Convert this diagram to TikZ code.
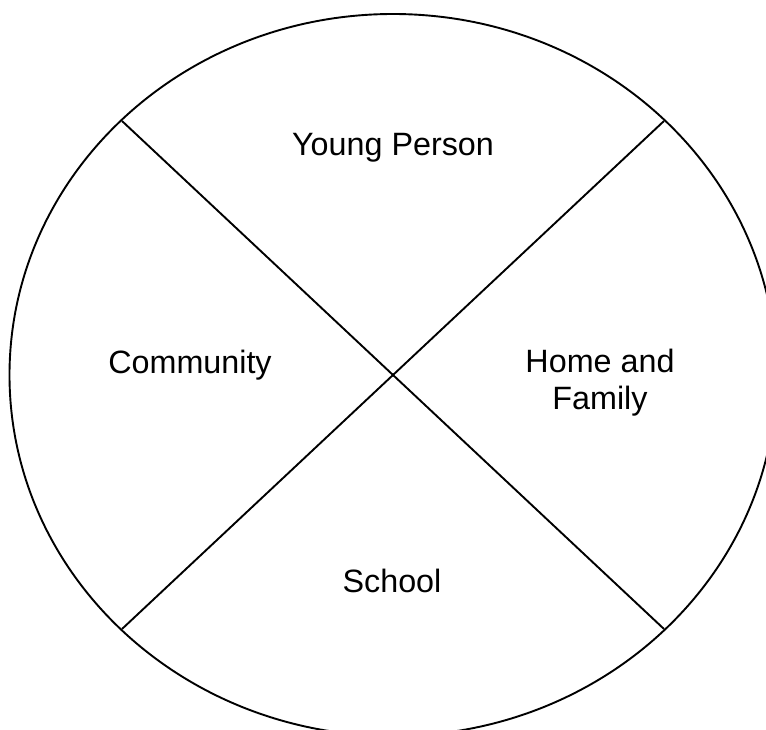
\documentclass[tikz,border=0pt]{standalone}
\usepackage{fontspec}
\setmainfont{Liberation Sans}
\begin{document}
\begin{tikzpicture}[x=1pt,y=-1pt,
  rim/.style={line width=1.9pt, black},
  divider/.style={line width=1.9pt, black},
  segtext/.style={font=\fontsize{32.3}{37}\selectfont, align=center, inner sep=0pt}]
  \useasboundingbox (0,0) rectangle (766,730);
  \clip (0,0) rectangle (766,730);
  % outer circle
  \coordinate (c) at (393,375);
  \draw[rim] (c) ellipse [x radius=383.5, y radius=361];
  % points where the dividers meet the rim
  \coordinate (tl) at (122,121);
  \coordinate (tr) at (664,121);
  \coordinate (bl) at (122,629);
  \coordinate (br) at (664,629);
  \draw[divider] (tl) -- (br);
  \draw[divider] (tr) -- (bl);
  % quadrant labels
  \node[segtext] (young) at (393,148) {Young Person};
  \node[segtext] (community) at (190,365) {Community};
  \node[segtext] (home) at (600,383) {Home and\\Family};
  \node[segtext] (school) at (392,581) {School};
\end{tikzpicture}
\end{document}
